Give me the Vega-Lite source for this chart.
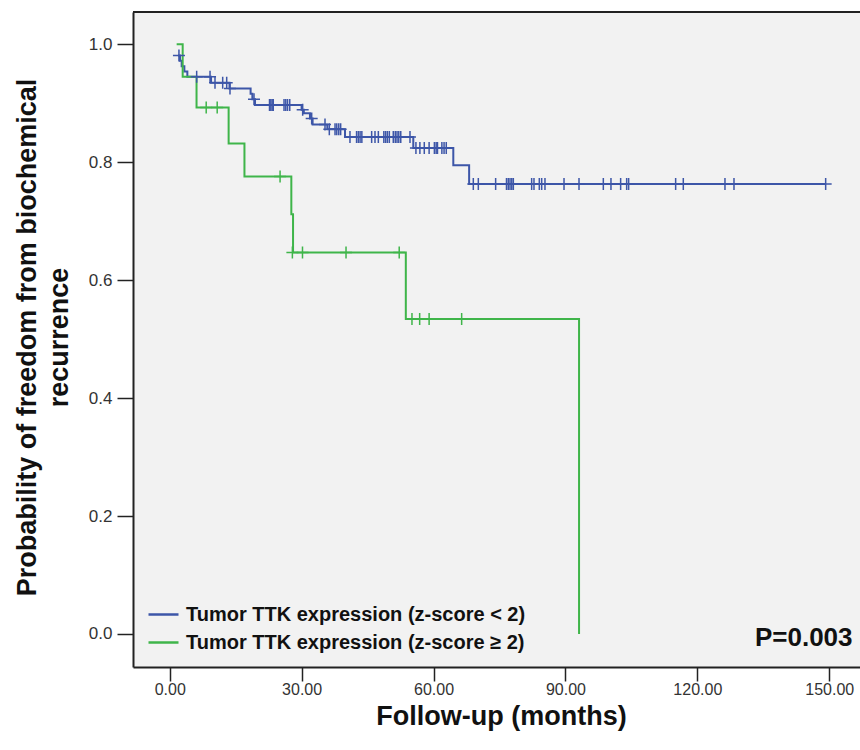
{
  "$schema": "https://vega.github.io/schema/vega-lite/v6.json",
  "autosize": {"type": "none"},
  "padding": {"left": 133, "top": 12, "right": 0, "bottom": 83},
  "width": 727,
  "height": 655,
  "background": "#ffffff",
  "config": {
    "view": {"fill": "#f2f2f2", "stroke": null},
    "font": "Liberation Sans"
  },
  "datasets": {
    "curves": [
      {"group": "Tumor TTK expression (z-score < 2)", "t": 1.9, "s": 0.981},
      {"group": "Tumor TTK expression (z-score < 2)", "t": 2.34, "s": 0.972},
      {"group": "Tumor TTK expression (z-score < 2)", "t": 2.72, "s": 0.963},
      {"group": "Tumor TTK expression (z-score < 2)", "t": 3.33, "s": 0.954},
      {"group": "Tumor TTK expression (z-score < 2)", "t": 4.01, "s": 0.945},
      {"group": "Tumor TTK expression (z-score < 2)", "t": 9.4, "s": 0.935},
      {"group": "Tumor TTK expression (z-score < 2)", "t": 13.6, "s": 0.925},
      {"group": "Tumor TTK expression (z-score < 2)", "t": 18.4, "s": 0.916},
      {"group": "Tumor TTK expression (z-score < 2)", "t": 18.8, "s": 0.907},
      {"group": "Tumor TTK expression (z-score < 2)", "t": 19.4, "s": 0.897},
      {"group": "Tumor TTK expression (z-score < 2)", "t": 30.0, "s": 0.889},
      {"group": "Tumor TTK expression (z-score < 2)", "t": 30.5, "s": 0.883},
      {"group": "Tumor TTK expression (z-score < 2)", "t": 31.9, "s": 0.874},
      {"group": "Tumor TTK expression (z-score < 2)", "t": 32.5, "s": 0.864},
      {"group": "Tumor TTK expression (z-score < 2)", "t": 35.85, "s": 0.856},
      {"group": "Tumor TTK expression (z-score < 2)", "t": 39.87, "s": 0.843},
      {"group": "Tumor TTK expression (z-score < 2)", "t": 55.4, "s": 0.824},
      {"group": "Tumor TTK expression (z-score < 2)", "t": 64.5, "s": 0.795},
      {"group": "Tumor TTK expression (z-score < 2)", "t": 68.1, "s": 0.763},
      {"group": "Tumor TTK expression (z-score < 2)", "t": 149.2, "s": 0.763},
      {"group": "Tumor TTK expression (z-score ≥ 2)", "t": 1.58, "s": 1.0},
      {"group": "Tumor TTK expression (z-score ≥ 2)", "t": 2.95, "s": 0.945},
      {"group": "Tumor TTK expression (z-score ≥ 2)", "t": 6.1, "s": 0.893},
      {"group": "Tumor TTK expression (z-score ≥ 2)", "t": 13.4, "s": 0.832},
      {"group": "Tumor TTK expression (z-score ≥ 2)", "t": 17.0, "s": 0.776},
      {"group": "Tumor TTK expression (z-score ≥ 2)", "t": 27.66, "s": 0.712},
      {"group": "Tumor TTK expression (z-score ≥ 2)", "t": 28.05, "s": 0.647},
      {"group": "Tumor TTK expression (z-score ≥ 2)", "t": 53.7, "s": 0.534},
      {"group": "Tumor TTK expression (z-score ≥ 2)", "t": 93.1, "s": 0.0}
    ],
    "censor": [
      {"group": "Tumor TTK expression (z-score < 2)", "t": 2.1, "s": 0.981},
      {"group": "Tumor TTK expression (z-score < 2)", "t": 6.13, "s": 0.945},
      {"group": "Tumor TTK expression (z-score < 2)", "t": 9.17, "s": 0.945},
      {"group": "Tumor TTK expression (z-score < 2)", "t": 10.3, "s": 0.935},
      {"group": "Tumor TTK expression (z-score < 2)", "t": 12.05, "s": 0.935},
      {"group": "Tumor TTK expression (z-score < 2)", "t": 12.96, "s": 0.935},
      {"group": "Tumor TTK expression (z-score < 2)", "t": 13.71, "s": 0.925},
      {"group": "Tumor TTK expression (z-score < 2)", "t": 19.17, "s": 0.907},
      {"group": "Tumor TTK expression (z-score < 2)", "t": 22.7, "s": 0.897},
      {"group": "Tumor TTK expression (z-score < 2)", "t": 23.0, "s": 0.897},
      {"group": "Tumor TTK expression (z-score < 2)", "t": 23.3, "s": 0.897},
      {"group": "Tumor TTK expression (z-score < 2)", "t": 23.55, "s": 0.897},
      {"group": "Tumor TTK expression (z-score < 2)", "t": 26.0, "s": 0.897},
      {"group": "Tumor TTK expression (z-score < 2)", "t": 26.4, "s": 0.897},
      {"group": "Tumor TTK expression (z-score < 2)", "t": 26.8, "s": 0.897},
      {"group": "Tumor TTK expression (z-score < 2)", "t": 27.3, "s": 0.897},
      {"group": "Tumor TTK expression (z-score < 2)", "t": 30.24, "s": 0.889},
      {"group": "Tumor TTK expression (z-score < 2)", "t": 32.29, "s": 0.874},
      {"group": "Tumor TTK expression (z-score < 2)", "t": 35.32, "s": 0.864},
      {"group": "Tumor TTK expression (z-score < 2)", "t": 36.3, "s": 0.856},
      {"group": "Tumor TTK expression (z-score < 2)", "t": 37.6, "s": 0.856},
      {"group": "Tumor TTK expression (z-score < 2)", "t": 38.0, "s": 0.856},
      {"group": "Tumor TTK expression (z-score < 2)", "t": 38.45, "s": 0.856},
      {"group": "Tumor TTK expression (z-score < 2)", "t": 38.88, "s": 0.856},
      {"group": "Tumor TTK expression (z-score < 2)", "t": 41.0, "s": 0.843},
      {"group": "Tumor TTK expression (z-score < 2)", "t": 42.5, "s": 0.843},
      {"group": "Tumor TTK expression (z-score < 2)", "t": 42.9, "s": 0.843},
      {"group": "Tumor TTK expression (z-score < 2)", "t": 43.3, "s": 0.843},
      {"group": "Tumor TTK expression (z-score < 2)", "t": 43.7, "s": 0.843},
      {"group": "Tumor TTK expression (z-score < 2)", "t": 45.93, "s": 0.843},
      {"group": "Tumor TTK expression (z-score < 2)", "t": 46.69, "s": 0.843},
      {"group": "Tumor TTK expression (z-score < 2)", "t": 47.45, "s": 0.843},
      {"group": "Tumor TTK expression (z-score < 2)", "t": 48.7, "s": 0.843},
      {"group": "Tumor TTK expression (z-score < 2)", "t": 49.1, "s": 0.843},
      {"group": "Tumor TTK expression (z-score < 2)", "t": 49.5, "s": 0.843},
      {"group": "Tumor TTK expression (z-score < 2)", "t": 49.95, "s": 0.843},
      {"group": "Tumor TTK expression (z-score < 2)", "t": 50.85, "s": 0.843},
      {"group": "Tumor TTK expression (z-score < 2)", "t": 51.3, "s": 0.843},
      {"group": "Tumor TTK expression (z-score < 2)", "t": 51.7, "s": 0.843},
      {"group": "Tumor TTK expression (z-score < 2)", "t": 52.1, "s": 0.843},
      {"group": "Tumor TTK expression (z-score < 2)", "t": 52.55, "s": 0.843},
      {"group": "Tumor TTK expression (z-score < 2)", "t": 54.65, "s": 0.843},
      {"group": "Tumor TTK expression (z-score < 2)", "t": 56.0, "s": 0.824},
      {"group": "Tumor TTK expression (z-score < 2)", "t": 56.9, "s": 0.824},
      {"group": "Tumor TTK expression (z-score < 2)", "t": 57.9, "s": 0.824},
      {"group": "Tumor TTK expression (z-score < 2)", "t": 59.0, "s": 0.824},
      {"group": "Tumor TTK expression (z-score < 2)", "t": 60.2, "s": 0.824},
      {"group": "Tumor TTK expression (z-score < 2)", "t": 60.6, "s": 0.824},
      {"group": "Tumor TTK expression (z-score < 2)", "t": 60.9, "s": 0.824},
      {"group": "Tumor TTK expression (z-score < 2)", "t": 61.9, "s": 0.824},
      {"group": "Tumor TTK expression (z-score < 2)", "t": 62.4, "s": 0.824},
      {"group": "Tumor TTK expression (z-score < 2)", "t": 62.9, "s": 0.824},
      {"group": "Tumor TTK expression (z-score < 2)", "t": 69.05, "s": 0.763},
      {"group": "Tumor TTK expression (z-score < 2)", "t": 70.19, "s": 0.763},
      {"group": "Tumor TTK expression (z-score < 2)", "t": 74.13, "s": 0.763},
      {"group": "Tumor TTK expression (z-score < 2)", "t": 76.6, "s": 0.763},
      {"group": "Tumor TTK expression (z-score < 2)", "t": 77.0, "s": 0.763},
      {"group": "Tumor TTK expression (z-score < 2)", "t": 77.4, "s": 0.763},
      {"group": "Tumor TTK expression (z-score < 2)", "t": 77.8, "s": 0.763},
      {"group": "Tumor TTK expression (z-score < 2)", "t": 78.15, "s": 0.763},
      {"group": "Tumor TTK expression (z-score < 2)", "t": 82.32, "s": 0.763},
      {"group": "Tumor TTK expression (z-score < 2)", "t": 82.85, "s": 0.763},
      {"group": "Tumor TTK expression (z-score < 2)", "t": 84.06, "s": 0.763},
      {"group": "Tumor TTK expression (z-score < 2)", "t": 84.6, "s": 0.763},
      {"group": "Tumor TTK expression (z-score < 2)", "t": 85.35, "s": 0.763},
      {"group": "Tumor TTK expression (z-score < 2)", "t": 89.68, "s": 0.763},
      {"group": "Tumor TTK expression (z-score < 2)", "t": 93.09, "s": 0.763},
      {"group": "Tumor TTK expression (z-score < 2)", "t": 98.62, "s": 0.763},
      {"group": "Tumor TTK expression (z-score < 2)", "t": 100.36, "s": 0.763},
      {"group": "Tumor TTK expression (z-score < 2)", "t": 102.56, "s": 0.763},
      {"group": "Tumor TTK expression (z-score < 2)", "t": 103.93, "s": 0.763},
      {"group": "Tumor TTK expression (z-score < 2)", "t": 104.38, "s": 0.763},
      {"group": "Tumor TTK expression (z-score < 2)", "t": 115.07, "s": 0.763},
      {"group": "Tumor TTK expression (z-score < 2)", "t": 116.81, "s": 0.763},
      {"group": "Tumor TTK expression (z-score < 2)", "t": 126.29, "s": 0.763},
      {"group": "Tumor TTK expression (z-score < 2)", "t": 128.34, "s": 0.763},
      {"group": "Tumor TTK expression (z-score < 2)", "t": 149.19, "s": 0.763},
      {"group": "Tumor TTK expression (z-score ≥ 2)", "t": 8.3, "s": 0.893},
      {"group": "Tumor TTK expression (z-score ≥ 2)", "t": 10.8, "s": 0.893},
      {"group": "Tumor TTK expression (z-score ≥ 2)", "t": 25.1, "s": 0.776},
      {"group": "Tumor TTK expression (z-score ≥ 2)", "t": 27.9, "s": 0.647},
      {"group": "Tumor TTK expression (z-score ≥ 2)", "t": 30.2, "s": 0.647},
      {"group": "Tumor TTK expression (z-score ≥ 2)", "t": 40.1, "s": 0.647},
      {"group": "Tumor TTK expression (z-score ≥ 2)", "t": 52.2, "s": 0.647},
      {"group": "Tumor TTK expression (z-score ≥ 2)", "t": 55.1, "s": 0.534},
      {"group": "Tumor TTK expression (z-score ≥ 2)", "t": 56.85, "s": 0.534},
      {"group": "Tumor TTK expression (z-score ≥ 2)", "t": 59.0, "s": 0.534},
      {"group": "Tumor TTK expression (z-score ≥ 2)", "t": 66.4, "s": 0.534}
    ],
    "note": [{"label": "P=0.003"}]
  },
  "layer": [
    {
      "data": {"name": "note"},
      "mark": {"type": "rule", "color": "#222222", "strokeWidth": 2},
      "encoding": {"y": {"datum": 1.0548, "type": "quantitative", "scale": {"domain": [-0.056, 1.0548], "nice": false, "zero": false}}}
    },
    {
      "data": {"name": "curves"},
      "mark": {"type": "line", "interpolate": "step-after", "strokeWidth": 2},
      "encoding": {
        "x": {
          "field": "t", "type": "quantitative",
          "scale": {"domain": [-8.35, 157.0], "nice": false, "zero": false},
          "axis": {
            "values": [0, 30, 60, 90, 120, 150], "format": ".2f",
            "tickSize": 14, "tickWidth": 1.5, "tickColor": "#222222",
            "domainColor": "#222222", "domainWidth": 2,
            "labelFont": "Liberation Sans", "labelFontSize": 16, "labelColor": "#333333", "labelPadding": 0,
            "grid": false,
            "title": "Follow-up (months)",
            "titleFont": "Liberation Sans", "titleFontSize": 27, "titleFontWeight": "bold", "titleColor": "#111111",
            "titleX": 368, "titleY": 57, "titleBaseline": "alphabetic", "titleAlign": "center", "titleAnchor": null
          }
        },
        "y": {
          "field": "s", "type": "quantitative",
          "scale": {"domain": [-0.056, 1.0548], "nice": false, "zero": false},
          "axis": {
            "values": [0, 0.2, 0.4, 0.6, 0.8, 1.0], "format": ".1f",
            "tickSize": 16, "tickWidth": 1.5, "tickColor": "#222222",
            "domainColor": "#222222", "domainWidth": 2,
            "labelFont": "Liberation Sans", "labelFontSize": 17, "labelColor": "#333333", "labelPadding": 5,
            "grid": false,
            "title": ["Probability of freedom from biochemical", "recurrence"],
            "titleFont": "Liberation Sans", "titleFontSize": 27, "titleFontWeight": "bold", "titleColor": "#111111",
            "titleAngle": -90, "titleX": -106, "titleY": 325, "titleBaseline": "middle", "titleAlign": "center", "titleLineHeight": 32, "titleAnchor": null
          }
        },
        "color": {
          "field": "group", "type": "nominal",
          "scale": {"domain": ["Tumor TTK expression (z-score < 2)", "Tumor TTK expression (z-score ≥ 2)"], "range": ["#3d56a8", "#3fb54a"]},
          "legend": {
            "orient": "none", "legendX": 14, "legendY": 586, "title": null,
            "symbolType": "stroke", "symbolSize": 900, "symbolStrokeWidth": 2.5,
            "labelFont": "Liberation Sans", "labelFontSize": 20, "labelFontWeight": "bold", "labelColor": "#111111",
            "labelOffset": 6, "rowPadding": 1, "padding": 0, "labelLimit": 0
          }
        }
      }
    },
    {
      "data": {"name": "censor"},
      "mark": {"type": "point", "shape": "M-1,0L1,0M0,-1L0,1", "size": 144, "filled": false, "strokeWidth": 1.5, "opacity": 1},
      "encoding": {
        "x": {"field": "t", "type": "quantitative"},
        "y": {"field": "s", "type": "quantitative"},
        "stroke": {
          "field": "group", "type": "nominal",
          "scale": {"domain": ["Tumor TTK expression (z-score < 2)", "Tumor TTK expression (z-score ≥ 2)"], "range": ["#3d56a8", "#3fb54a"]},
          "legend": null
        }
      }
    },
    {
      "data": {"name": "note"},
      "mark": {"type": "text", "align": "right", "baseline": "middle", "font": "Liberation Sans", "fontSize": 26, "fontWeight": "bold", "color": "#111111"},
      "encoding": {
        "x": {"datum": 155.3, "type": "quantitative"},
        "y": {"datum": -0.006, "type": "quantitative"},
        "text": {"field": "label"}
      }
    }
  ]
}
